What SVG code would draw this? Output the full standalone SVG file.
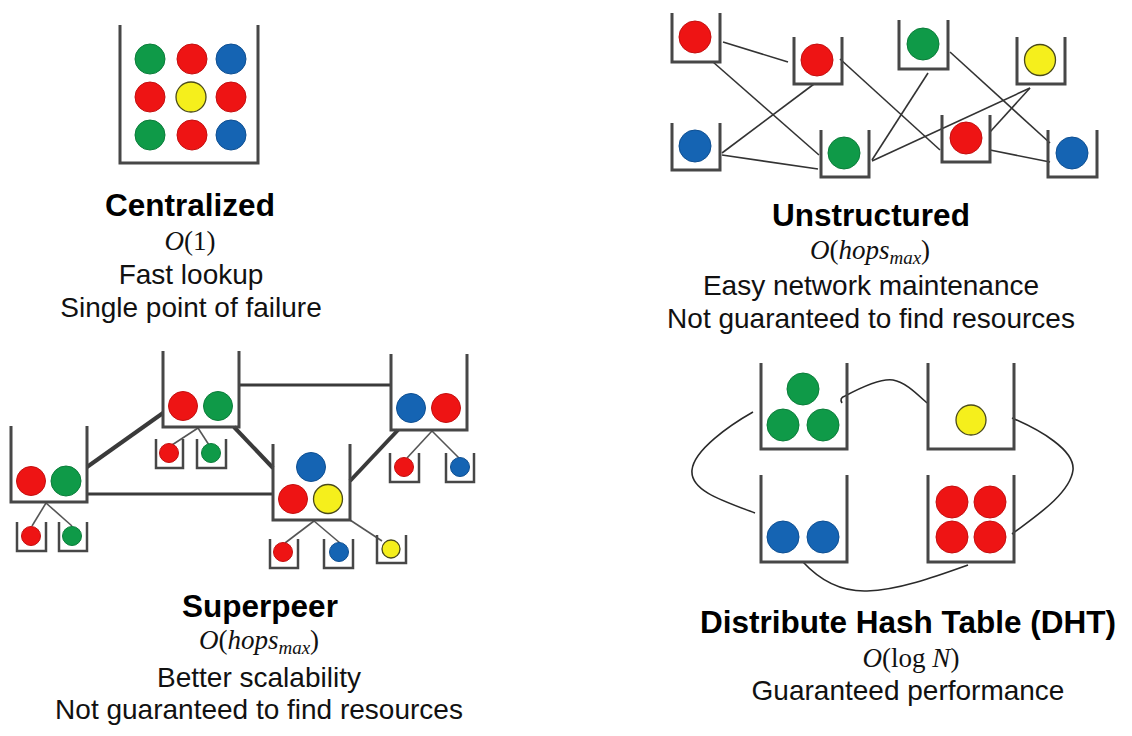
<svg xmlns="http://www.w3.org/2000/svg" width="1132" height="736" viewBox="0 0 1132 736">
<style>
.bk{fill:none;stroke:#474747;stroke-width:3}
.bks{fill:none;stroke:#474747;stroke-width:2.5}
.g{fill:#0f9a48;stroke:#0b7d3a;stroke-width:1}
.r{fill:#ee1414;stroke:#c40f0f;stroke-width:1}
.b{fill:#1564b3;stroke:#0e4f92;stroke-width:1}
.y{fill:#f5ef1c;stroke:#4a4a1a;stroke-width:1.3}
.ln{stroke:#333;stroke-width:1.6;fill:none}
.leaf{stroke:#555;stroke-width:1.6;fill:none}
.thick{stroke:#3a3a3a;stroke-width:4;fill:none}
.med{stroke:#3a3a3a;stroke-width:3.2;fill:none}
.curve{stroke:#2a2a2a;stroke-width:1.6;fill:none}
.title{font-family:"Liberation Sans",Arial,sans-serif;font-weight:bold;font-size:31.5px;text-anchor:middle;fill:#000}
.body{font-family:"Liberation Sans",Arial,sans-serif;font-size:28px;text-anchor:middle;fill:#111}
.math{font-family:"Liberation Serif","Times New Roman",serif;font-size:27px;text-anchor:middle;fill:#111}
.it{font-style:italic}
</style>
<rect width="1132" height="736" fill="#fff"/>

<!-- Centralized -->
<g id="centralized">
<path class="bk" d="M120 25 V163 H258 V25"/>
<circle class="g" cx="150" cy="59" r="15"/><circle class="r" cx="192" cy="59" r="15"/><circle class="b" cx="231" cy="59" r="15"/>
<circle class="r" cx="150" cy="97" r="15"/><circle class="y" cx="191" cy="97" r="15"/><circle class="r" cx="231" cy="97" r="15"/>
<circle class="g" cx="150" cy="135" r="15"/><circle class="r" cx="192" cy="135" r="15"/><circle class="b" cx="231" cy="135" r="15"/>
</g>
<g id="centralized-label">
<text class="title" x="190" y="216">Centralized</text>
<text class="math" x="190" y="250"><tspan class="it">O</tspan>(1)</text>
<text class="body" x="191" y="284">Fast lookup</text>
<text class="body" x="191" y="317">Single point of failure</text>
</g>

<!-- Unstructured connectors -->
<g id="unstructured-connectors">
<line class="ln" x1="723" y1="42" x2="788" y2="62"/>
<line class="ln" x1="713" y1="62" x2="819" y2="155"/>
<line class="ln" x1="814" y1="84" x2="722" y2="153"/>
<line class="ln" x1="722" y1="155" x2="818" y2="169"/>
<line class="ln" x1="840" y1="59" x2="940" y2="150"/>
<line class="ln" x1="872" y1="160" x2="928" y2="73"/>
<line class="ln" x1="872" y1="161" x2="1030" y2="88"/>
<line class="ln" x1="1030" y1="88" x2="990" y2="132"/>
<line class="ln" x1="950" y1="52" x2="1050" y2="143"/>
<line class="ln" x1="990" y1="150" x2="1050" y2="162"/>
</g>
<g id="u-a"><path class="bk" d="M672 13 V62 H720 V13"/><circle class="r" cx="695" cy="37" r="16"/></g>
<g id="u-b"><path class="bk" d="M794 37 V84 H842 V37"/><circle class="r" cx="817" cy="60" r="16"/></g>
<g id="u-c"><path class="bk" d="M672 123 V170 H720 V123"/><circle class="b" cx="695" cy="146" r="16"/></g>
<g id="u-d"><path class="bk" d="M821 130 V177 H869 V130"/><circle class="g" cx="844" cy="153" r="16"/></g>
<g id="u-e"><path class="bk" d="M899 20 V69 H948 V20"/><circle class="g" cx="923" cy="44" r="16"/></g>
<g id="u-f"><path class="bk" d="M1017 37 V84 H1065 V37"/><circle class="y" cx="1040" cy="60" r="15.5"/></g>
<g id="u-g"><path class="bk" d="M942 115 V162 H990 V115"/><circle class="r" cx="966" cy="138" r="16"/></g>
<g id="u-h"><path class="bk" d="M1048 130 V177 H1097 V130"/><circle class="b" cx="1072" cy="153" r="16"/></g>
<g id="unstructured-label">
<text class="title" x="871" y="226">Unstructured</text>
<text class="math" x="870" y="259"><tspan class="it">O</tspan>(<tspan class="it">hops</tspan><tspan class="it" font-size="19" dy="5">max</tspan><tspan dy="-5">)</tspan></text>
<text class="body" x="871" y="295">Easy network maintenance</text>
<text class="body" x="871" y="328">Not guaranteed to find resources</text>
</g>

<!-- Superpeer connectors -->
<g id="superpeer-connectors">
<line class="thick" x1="87" y1="467" x2="163" y2="413"/>
<line class="med" x1="87" y1="494" x2="273" y2="494"/>
<line class="thick" x1="234" y1="427" x2="273" y2="468"/>
<line class="med" x1="239" y1="385" x2="391" y2="385"/>
<line class="thick" x1="350" y1="481" x2="398" y2="430"/>
<line class="leaf" x1="46" y1="503" x2="32" y2="526"/>
<line class="leaf" x1="46" y1="503" x2="72" y2="526"/>
<line class="leaf" x1="198" y1="428" x2="172" y2="445"/>
<line class="leaf" x1="198" y1="428" x2="209" y2="445"/>
<line class="leaf" x1="314" y1="521" x2="285" y2="543"/>
<line class="leaf" x1="314" y1="521" x2="340" y2="543"/>
<line class="leaf" x1="350" y1="520" x2="382" y2="541"/>
<line class="leaf" x1="432" y1="431" x2="407" y2="458"/>
<line class="leaf" x1="432" y1="431" x2="459" y2="458"/>
</g>
<g id="sp1"><path class="bk" d="M11 426 V502 H87 V426"/><circle class="r" cx="31" cy="481" r="14.5"/><circle class="g" cx="66" cy="481" r="15"/></g>
<g id="sp1-leaf1"><path class="bks" d="M17 522 V551 H46 V522"/><circle class="r" cx="31" cy="536" r="9.5"/></g>
<g id="sp1-leaf2"><path class="bks" d="M59 522 V551 H87 V522"/><circle class="g" cx="72" cy="536" r="9.5"/></g>
<g id="sp2"><path class="bk" d="M163 351 V427 H239 V351"/><circle class="r" cx="183" cy="406" r="14.5"/><circle class="g" cx="218" cy="406" r="14.5"/></g>
<g id="sp2-leaf1"><path class="bks" d="M156 439 V468 H183 V439"/><circle class="r" cx="169" cy="453" r="9.5"/></g>
<g id="sp2-leaf2"><path class="bks" d="M197 439 V468 H226 V439"/><circle class="g" cx="211" cy="453" r="9.5"/></g>
<g id="sp3"><path class="bk" d="M273 444 V520 H350 V444"/><circle class="b" cx="311" cy="467" r="14.5"/><circle class="r" cx="293" cy="499" r="14.5"/><circle class="y" cx="328" cy="499" r="14.5"/></g>
<g id="sp3-leaf1"><path class="bks" d="M270 539 V568 H298 V539"/><circle class="r" cx="283" cy="552" r="9.5"/></g>
<g id="sp3-leaf2"><path class="bks" d="M324 539 V568 H353 V539"/><circle class="b" cx="339" cy="552" r="9.5"/></g>
<g id="sp3-leaf3"><path class="bks" d="M377 535 V563 H406 V535"/><circle class="y" cx="391" cy="549" r="9"/></g>
<g id="sp4"><path class="bk" d="M391 354 V430 H467 V354"/><circle class="b" cx="411" cy="408" r="14.5"/><circle class="r" cx="446" cy="408" r="14.5"/></g>
<g id="sp4-leaf1"><path class="bks" d="M390 453 V482 H419 V453"/><circle class="r" cx="404" cy="467" r="9.5"/></g>
<g id="sp4-leaf2"><path class="bks" d="M446 453 V482 H474 V453"/><circle class="b" cx="460" cy="467" r="9.5"/></g>
<g id="superpeer-label">
<text class="title" x="260" y="617">Superpeer</text>
<text class="math" x="259" y="649"><tspan class="it">O</tspan>(<tspan class="it">hops</tspan><tspan class="it" font-size="19" dy="5">max</tspan><tspan dy="-5">)</tspan></text>
<text class="body" x="259" y="687">Better scalability</text>
<text class="body" x="259" y="719">Not guaranteed to find resources</text>
</g>

<!-- DHT connectors -->
<g id="dht-connectors">
<path class="curve" d="M842 403 Q839 398 845 396 C860 388 880 378 893 380 C905 382 916 393 927 403"/>
<path class="curve" d="M1012 418 C1040 430 1075 450 1073 470 C1070 495 1030 520 1012 534"/>
<path class="curve" d="M968 565 C940 575 900 590 867 591 C835 592 815 575 803 562"/>
<path class="curve" d="M755 513 C720 500 690 490 692 470 C694 450 730 425 753 412"/>
</g>
<g id="dht-tl"><path class="bk" d="M761 363 V449 H847 V363"/><circle class="g" cx="803" cy="389" r="16"/><circle class="g" cx="783" cy="425" r="16"/><circle class="g" cx="823" cy="425" r="16"/></g>
<g id="dht-tr"><path class="bk" d="M928 363 V449 H1014 V363"/><circle class="y" cx="971" cy="420" r="15"/></g>
<g id="dht-bl"><path class="bk" d="M761 475 V562 H847 V475"/><circle class="b" cx="783" cy="537" r="16"/><circle class="b" cx="823" cy="537" r="16"/></g>
<g id="dht-br"><path class="bk" d="M928 475 V562 H1014 V475"/><circle class="r" cx="952" cy="502" r="16"/><circle class="r" cx="990" cy="502" r="16"/><circle class="r" cx="952" cy="537" r="16"/><circle class="r" cx="990" cy="537" r="16"/></g>
<g id="dht-label">
<text class="title" x="908" y="633">Distribute Hash Table (DHT)</text>
<text class="math" x="911" y="667"><tspan class="it">O</tspan>(log <tspan class="it">N</tspan>)</text>
<text class="body" x="908" y="700">Guaranteed performance</text>
</g>
</svg>
